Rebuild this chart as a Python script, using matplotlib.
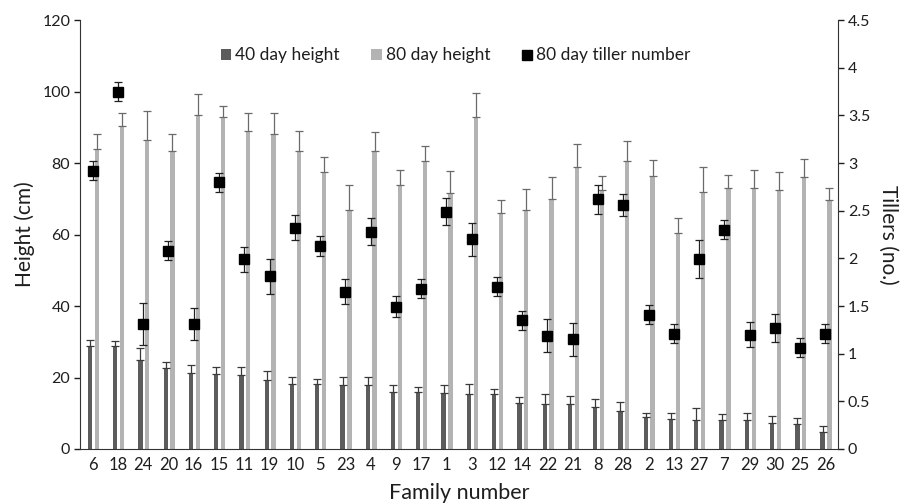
import matplotlib
matplotlib.use("Agg")
import matplotlib.pyplot as plt
import numpy as np
from matplotlib.lines import Line2D
from matplotlib.patches import Patch

plt.rcParams['font.family'] = ['Lato', 'DejaVu Sans']

families = ["6", "18", "24", "20", "16", "15", "11", "19", "10", "5", "23", "4", "9", "17", "1",
            "3", "12", "14", "22", "21", "8", "28", "2", "13", "27", "7", "29", "30", "25", "26"]

h40 = [28.8, 28.8, 24.9, 22.7, 21.2, 21.0, 20.7, 19.3, 18.1, 18.1, 17.8, 17.8, 16.0, 15.9, 15.6,
       15.4, 15.4, 13.0, 12.6, 12.6, 11.8, 10.7, 8.9, 8.5, 8.1, 8.1, 8.1, 7.2, 7.0, 4.8]
h40_err = [1.7, 1.5, 3.3, 1.6, 2.4, 1.9, 2.2, 2.4, 2.1, 1.6, 2.4, 2.4, 2.0, 1.5, 2.3,
           2.8, 1.5, 1.5, 2.7, 2.2, 2.1, 2.4, 1.3, 1.5, 3.4, 1.7, 1.9, 2.1, 1.7, 1.7]

h80 = [84.0, 90.5, 86.5, 83.5, 93.5, 93.0, 89.0, 88.0, 83.5, 77.5, 67.0, 83.5, 74.0, 80.5, 71.5,
       93.0, 66.0, 67.0, 70.0, 79.0, 72.5, 80.5, 76.5, 60.5, 72.0, 73.0, 73.0, 72.5, 76.0, 69.8]
h80_err = [4.1, 3.5, 8.0, 4.5, 5.8, 3.1, 4.9, 5.9, 5.4, 4.3, 6.8, 5.3, 4.2, 4.3, 6.3,
           6.7, 3.6, 5.7, 6.2, 6.2, 4.0, 5.7, 4.3, 4.2, 7.0, 3.8, 5.1, 5.1, 5.0, 3.1]

tillers = [2.92, 3.75, 1.31, 2.08, 1.31, 2.80, 1.99, 1.81, 2.32, 2.13, 1.65, 2.28, 1.49, 1.68, 2.49,
           2.20, 1.70, 1.35, 1.19, 1.15, 2.62, 2.56, 1.41, 1.21, 1.99, 2.30, 1.20, 1.27, 1.06, 1.21]
tillers_err = [0.10, 0.10, 0.22, 0.10, 0.17, 0.10, 0.13, 0.18, 0.13, 0.11, 0.13, 0.14, 0.11, 0.10, 0.14,
               0.17, 0.10, 0.10, 0.17, 0.17, 0.15, 0.12, 0.10, 0.10, 0.20, 0.10, 0.13, 0.15, 0.10, 0.10]

left_ticks = [0, 20, 40, 60, 80, 100, 120]
right_ticks = [0, 0.5, 1, 1.5, 2, 2.5, 3, 3.5, 4, 4.5]
right_labels = ["0", "0.5", "1", "1.5", "2", "2.5", "3", "3.5", "4", "4.5"]

dark = "#5c5c5c"
light = "#b3b3b3"
txt = "#1e1e1e"

fig = plt.figure(figsize=(9.06, 5.03), dpi=100)
ax = fig.add_axes([0.0883, 0.1074, 0.8367, 0.8526])
x = np.arange(len(families))
w = 0.17
ax.bar(x - 0.11, h40, width=w, color=dark, zorder=2)
ax.errorbar(x - 0.11, h40, yerr=[np.zeros(len(h40)), h40_err], fmt='none', ecolor="#3a3a3a",
            elinewidth=0.9, capsize=3, capthick=0.9, zorder=3)
ax.bar(x + 0.16, h80, width=w, color=light, zorder=2)
ax.errorbar(x + 0.16, h80, yerr=[np.zeros(len(h80)), h80_err], fmt='none', ecolor="#6a6a6a",
            elinewidth=0.9, capsize=3, capthick=0.9, zorder=3)

ax.set_xlim(-0.5, len(families) - 0.5)
ax.set_ylim(0, 120)
ax.set_yticks(left_ticks)
ax.set_xticks(x)
ax.set_xticklabels(families)
ax.tick_params(axis='x', length=0, labelsize=12, colors=txt, pad=6)
ax.tick_params(axis='y', length=4, width=1, labelsize=11.5, colors=txt, direction='out', pad=3)
ax.spines['top'].set_visible(False)
ax.spines['right'].set_visible(False)
ax.spines['left'].set_color("#333333")
ax.spines['bottom'].set_color("#333333")
ax.set_ylabel("Height (cm)", fontsize=15, color=txt, labelpad=5)
ax.set_xlabel("Family number", fontsize=15.5, color=txt, labelpad=7)

ax2 = ax.twinx()
ax2.set_ylim(0, 4.5)
ax2.errorbar(x, tillers, yerr=tillers_err, fmt='s', color='black', markersize=7.5,
             ecolor='#202020', elinewidth=0.9, capsize=3, capthick=0.9, zorder=4)
ax2.set_yticks(right_ticks)
ax2.set_yticklabels(right_labels)
ax2.tick_params(axis='y', length=4, width=1, labelsize=11.5, colors=txt, direction='out', pad=3)
ax2.spines['top'].set_visible(False)
ax2.spines['left'].set_visible(False)
ax2.spines['bottom'].set_visible(False)
ax2.spines['right'].set_color("#333333")
ax2.set_ylabel("Tillers (no.)", fontsize=15, color=txt, rotation=270, labelpad=20)

handles = [Patch(facecolor=dark, edgecolor='none'),
           Patch(facecolor=light, edgecolor='none'),
           Line2D([], [], marker='s', color='black', linestyle='none', markersize=7)]
labels = ["40 day height", "80 day height", "80 day tiller number"]
fig.legend(handles, labels, loc='center', bbox_to_anchor=(0.503, 0.89), ncol=3, frameon=False,
           fontsize=12.5, handlelength=0.6, handleheight=0.6, handletextpad=0.25, columnspacing=1.8,
           labelcolor=txt)

fig.savefig("out.png", dpi=100)
